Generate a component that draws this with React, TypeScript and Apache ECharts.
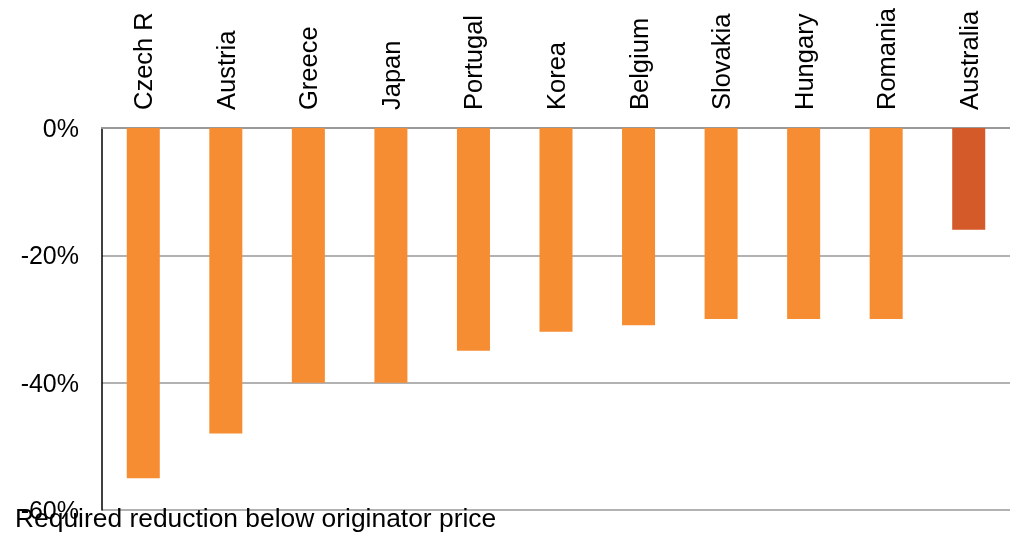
import React, { useEffect, useRef } from "react";
import * as echarts from "echarts";

const categories = ["Czech R", "Austria", "Greece", "Japan", "Portugal", "Korea", "Belgium", "Slovakia", "Hungary", "Romania", "Australia"];
const values = [-55, -48, -40, -40, -35, -32, -31, -30, -30, -30, -16];
const highlight = ["Australia"];
const yTicks = { min: -60, max: 0, interval: 20 };
const footnote = "Required reduction below originator price";

const FONT = "Liberation Sans, Arial, Helvetica, sans-serif";

export default function App() {
  const ref = useRef<HTMLDivElement>(null);
  useEffect(() => {
    if (!ref.current) return;
    const chart = echarts.init(ref.current, null, { renderer: "svg" });
    chart.setOption({
      animation: false,
      grid: { left: 102, right: 0, top: 128, bottom: 23, containLabel: false },
      xAxis: {
        type: "category",
        position: "top",
        data: categories,
        axisLine: { show: true, lineStyle: { color: "#999", width: 2 } },
        axisTick: { show: false },
        axisLabel: {
          rotate: 90,
          margin: 18,
          fontSize: 25.5,
          color: "#000",
          fontFamily: FONT,
          interval: 0,
        },
      },
      yAxis: {
        type: "value",
        min: yTicks.min,
        max: yTicks.max,
        interval: yTicks.interval,
        axisLine: { show: true, lineStyle: { color: "#000", width: 1.5 } },
        axisTick: { show: false },
        splitLine: { show: true, lineStyle: { color: "#999", width: 1.5 } },
        axisLabel: {
          formatter: "{value}%",
          fontSize: 25,
          color: "#000",
          fontFamily: FONT,
          margin: 23,
        },
      },
      series: [
        {
          type: "bar",
          barWidth: "40%",
          data: values.map((v, i) => ({
            value: v,
            itemStyle: { color: highlight.includes(categories[i]) ? "#D45A2A" : "#F68D33" },
          })),
        },
      ],
      graphic: [
        {
          type: "text",
          left: 15,
          top: 505,
          style: { text: footnote, fontSize: 26.4, fill: "#000", fontFamily: FONT },
          z: 100,
        },
      ],
    });
    return () => chart.dispose();
  }, []);
  return <div ref={ref} style={{ position: "fixed", left: 0, top: 0, width: 1010, height: 533 }} />;
}
